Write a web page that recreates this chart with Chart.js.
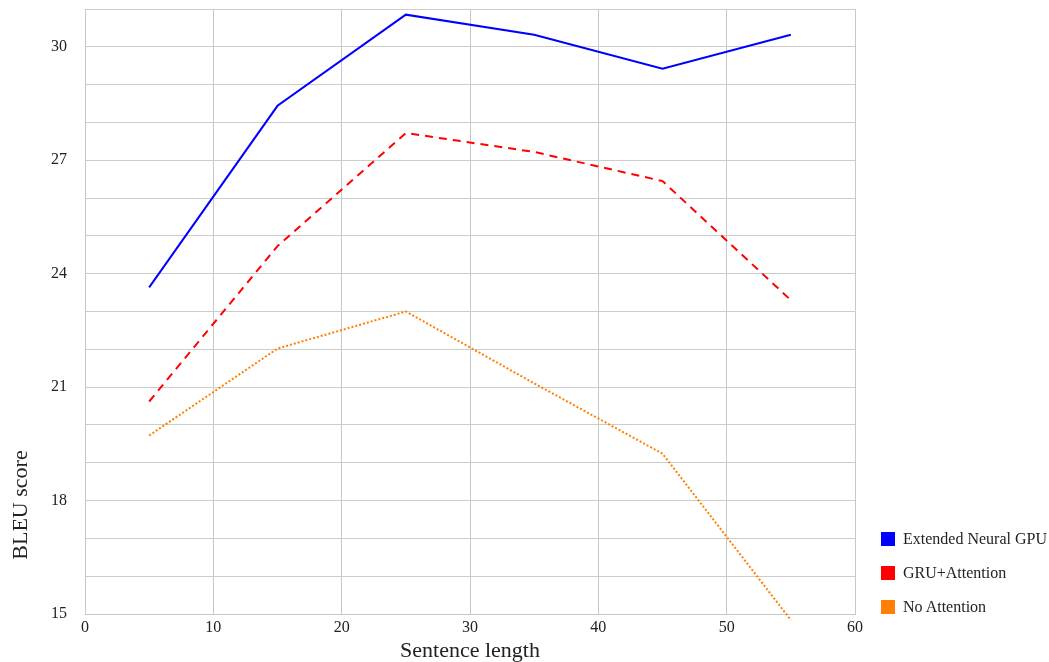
<!DOCTYPE html>
<html>
<head>
<meta charset="utf-8">
<script src="https://cdn.jsdelivr.net/npm/chart.js@4/dist/chart.umd.min.js"></script>
<style>
  html, body { margin:0; padding:0; background:#fff; }
  #wrap { position:relative; width:1049px; height:662px; }
  #legend { position:absolute; left:881px; top:532px; font-family:"Liberation Serif","Times New Roman",serif; font-size:16px; color:#222; }
  .li { display:flex; align-items:center; height:14px; margin-bottom:20px; white-space:nowrap; }
  .li i { display:inline-block; width:14px; height:14px; margin-right:8px; }
</style>
</head>
<body>
<div id="wrap">
  <canvas id="ch" width="1049" height="662"></canvas>
  <div id="legend"></div>
</div>
<script>
// sentence length buckets
const lengths = [5, 15, 25, 35, 45, 55];
const seriesNames = ['Extended Neural GPU', 'GRU+Attention', 'No Attention'];
const extendedGpu = [23.64, 28.44, 30.85, 30.32, 29.42, 30.32];
const gruAttention = [20.62, 24.73, 27.72, 27.22, 26.45, 23.3];
const noAttention = [19.72, 22.02, 23.0, 21.1, 19.24, 14.84];
const yLabelTicks = [15, 18, 21, 24, 27, 30];
const xTicks = [0, 10, 20, 30, 40, 50, 60];

const SERIF = '"Liberation Serif","Times New Roman",serif';
const COLS = ['#0000ff', '#ff0000', '#ff8000'];
const DASH = [[], [8, 6], [2, 2]];

const pts = vals => lengths.map((x, i) => ({ x, y: vals[i] }));

const ds = [extendedGpu, gruAttention, noAttention].map((v, i) => ({
  label: seriesNames[i], data: pts(v), borderColor: COLS[i], backgroundColor: COLS[i],
  borderWidth: 2, borderDash: DASH[i], pointRadius: 0, tension: 0, fill: false, clip: 10,
}));

// y-axis title sits low on the left side, so draw it ourselves
const yTitle = {
  id: 'yTitle',
  afterDraw(chart) {
    const c = chart.ctx;
    c.save();
    c.translate(21, 505);
    c.rotate(-Math.PI / 2);
    c.font = '22px ' + SERIF;
    c.fillStyle = '#222';
    c.textAlign = 'center';
    c.textBaseline = 'middle';
    c.fillText('BLEU score', 0, 0);
    c.restore();
  }
};

new Chart(document.getElementById('ch'), {
  type: 'line',
  data: { datasets: ds },
  plugins: [yTitle],
  options: {
    responsive: false, animation: false,
    layout: { padding: { top: 9, right: 194, left: 0, bottom: 0 } },
    plugins: { legend: { display: false }, tooltip: { enabled: false } },
    scales: {
      x: {
        type: 'linear', min: 0, max: 60,
        afterFit: s => { s.height = 48; s.paddingLeft = 0; s.paddingRight = 0; },
        afterBuildTicks: s => { s.ticks = xTicks.map(v => ({ value: v })); },
        grid: { color: '#c8c8c8', lineWidth: 1, drawTicks: false },
        border: { color: '#c8c8c8' },
        ticks: { padding: 4, color: '#222', font: { family: SERIF, size: 16 }, maxRotation: 0 },
        title: { display: true, text: 'Sentence length', color: '#222', font: { family: SERIF, size: 22, lineHeight: 1 }, padding: { top: 0, bottom: 0 } },
      },
      y: {
        min: 15, max: 31,
        afterFit: s => { s.width = 85; s.paddingTop = 0; s.paddingBottom = 0; },
        grid: { color: '#cccccc', lineWidth: 1, drawTicks: false },
        border: { color: '#c8c8c8' },
        ticks: {
          stepSize: 1, padding: 18, color: '#222', font: { family: SERIF, size: 16 },
          callback: v => yLabelTicks.includes(v) ? String(v) : '',
        },
      },
    },
  },
});

// legend
const lg = document.getElementById('legend');
seriesNames.forEach((n, i) => {
  const row = document.createElement('div');
  row.className = 'li';
  row.innerHTML = `<i style="background:${COLS[i]}"></i><span>${n}</span>`;
  lg.append(row);
});
</script>
</body>
</html>
